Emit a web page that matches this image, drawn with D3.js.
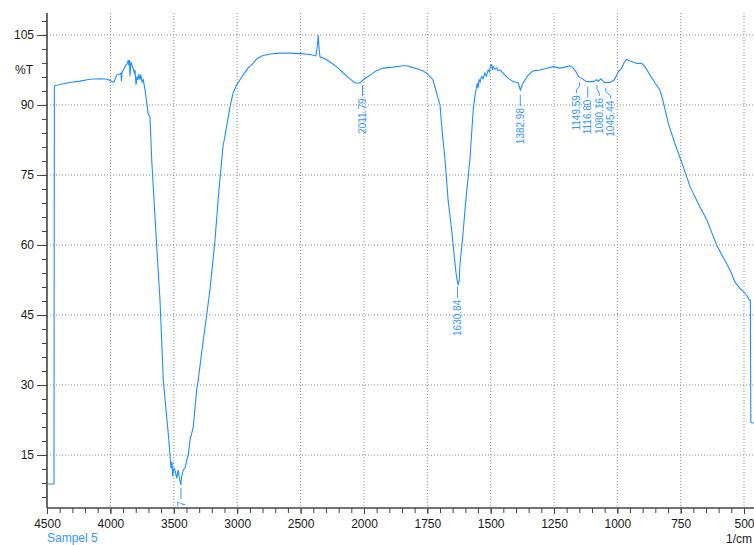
<!DOCTYPE html>
<html>
<head>
<meta charset="utf-8">
<script src="https://cdn.jsdelivr.net/npm/d3@7"></script>
<style>
  html, body { margin: 0; padding: 0; background: #fff; }
  svg { display: block; font-family: "Liberation Sans", Arial, sans-serif; }
</style>
</head>
<body>
<svg id="chart" width="754" height="545"></svg>
<script>
// ---- data ----
const wavenumber = [4500,4445,4442,4382,4319,4240,4161,4082,4019,3995,3972,3950,3932,3916,3913,3909,3885,3869,3859,3853,3849,3846,3838,3830,3812,3806,3798,3790,3782,3775,3767,3759,3751,3741,3727,3711,3701,3688,3674,3656,3633,3609,3583,3564,3544,3530,3522,3514,3509,3499,3491,3477,3465,3459,3445,3438,3425,3412,3398,3386,3372,3346,3320,3307,3278,3246,3215,3175,3144,3112,3083,3057,3033,3004,2978,2954,2915,2876,2844,2807,2741,2663,2584,2505,2426,2379,2367,2361,2355,2347,2308,2268,2213,2166,2111,2071,2032,2006,1976,1953,1925,1886,1846,1830,1807,1787,1767,1753,1740,1728,1720,1713,1708,1700,1692,1680,1668,1654,1641,1634,1628,1624,1621,1614,1608,1598,1582,1569,1564,1558,1553,1550,1546,1542,1536,1530,1523,1517,1510,1505,1501,1496,1493,1490,1483,1476,1471,1463,1450,1440,1431,1411,1391,1383,1372,1352,1332,1305,1282,1253,1226,1207,1187,1174,1163,1154,1141,1121,1095,1081,1075,1065,1051,1029,1012,996,983,974,963,954,943,924,904,891,871,851,832,819,799,773,740,713,681,647,621,608,588,569,549,536,516,496,486,479,475,473,469,437];
const transmittance = [8.8,8.8,94.1,94.5,94.8,95.1,95.5,95.6,95.5,95.1,94.9,96.4,96.6,96.8,95.1,96.9,98.2,98.8,99.6,98.4,99.6,96.1,99.2,98.6,96.9,97.5,94.3,96.1,95.4,96.6,95.4,96.5,94.9,95.4,93.2,90.0,87.9,87.5,78.2,69.6,58.9,48.2,31.1,25.4,19.7,15.0,12.2,13.5,10.4,12.2,11.8,10.0,11.8,10.5,8.6,10.4,11.8,12.2,13.9,15.0,18.2,21.1,28.9,31.1,37.5,43.9,50.4,61.1,71.8,81.1,85.4,89.6,92.5,94.3,95.4,96.4,97.9,98.9,99.9,100.5,100.9,101.1,101.1,101.0,100.8,100.5,102.9,105.0,102.2,100.3,99.9,99.2,98.1,96.9,95.6,94.7,94.7,95.4,96.4,97.3,97.9,98.1,98.4,98.4,98.0,97.7,97.3,96.8,96.1,95.4,93.9,92.5,91.5,90.0,84.6,78.2,69.6,63.2,56.1,52.9,51.4,52.5,56.1,59.6,63.2,69.6,78.2,88.9,91.1,93.2,94.7,93.6,95.4,94.9,96.1,95.6,96.8,96.2,97.5,97.1,98.4,98.6,97.5,98.2,97.7,97.9,97.3,97.5,96.8,96.2,95.7,95.0,94.7,93.2,94.7,96.4,97.3,97.5,97.8,98.2,97.9,98.1,98.4,97.9,97.1,96.1,95.7,95.0,95.0,95.4,95.1,95.6,94.8,94.8,95.4,97.1,97.9,99.0,99.8,99.5,99.3,98.9,98.9,98.2,96.4,94.7,93.2,90.7,86.1,81.8,76.8,72.5,68.9,65.4,61.8,60.0,57.9,56.1,53.9,52.1,50.7,49.7,48.9,48.2,48.2,22.1,21.9,21.8];

const peakWavenumbers = [3443.47, 2011.79, 1630.84, 1382.98, 1149.59, 1116.80, 1080.16, 1045.44];
const peakLabels = ["3443.47", "2011.79", "1630.84", "1382.98", "1149.59", "1116.80", "1080.16", "1045.44"];

const xMajorTicks = [4500, 4000, 3500, 3000, 2500, 2000, 1750, 1500, 1250, 1000, 750, 500];
const yMajorTicks = [15, 30, 45, 60, 75, 90, 105];
const xBreaks = [4500, 2000, 500];
const yDomain = [3.65, 109.7];
const yLabel = "%T";
const xLabel = "1/cm";
const sampleName = "Sampel 5";

// ---- layout ----
const M = { left: 47, top: 13, bottom: 508, right: 754 };
const lineColor = "#1e8fff";
const labelColor = "#3797ff";

const svg = d3.select("#chart");

const x = d3.scaleLinear().domain(xBreaks).range([47, 364, 744]);
const y = d3.scaleLinear().domain(yDomain).range([M.bottom, M.top]);

svg.append("defs").append("clipPath").attr("id", "plotclip")
  .append("rect").attr("x", M.left).attr("y", M.top).attr("width", M.right - M.left).attr("height", M.bottom - M.top);

// minor ticks
const xMinor = [];
for (let v = 4500; v >= 2000; v -= 100) xMinor.push(v);
for (let v = 1950; v >= 500; v -= 50) xMinor.push(v);
const yMinor = [];
for (let v = 6; v <= 108; v += 3) yMinor.push(v);

// grid
const grid = svg.append("g");
grid.selectAll("line.vg").data(xMajorTicks.filter(d => d !== 4500)).enter().append("line")
  .attr("x1", d => x(d)).attr("x2", d => x(d)).attr("y1", M.top).attr("y2", M.bottom)
  .attr("stroke", "#8c8c8c").attr("stroke-width", 1).attr("stroke-dasharray", "1,2");
grid.selectAll("line.hg").data(yMajorTicks).enter().append("line")
  .attr("x1", M.left).attr("x2", M.right).attr("y1", d => y(d)).attr("y2", d => y(d))
  .attr("stroke", "#8c8c8c").attr("stroke-width", 1).attr("stroke-dasharray", "1,2");

// axes
const xAxisMinor = d3.axisBottom(x).tickValues(xMinor).tickSize(5).tickFormat("");
const xAxis = d3.axisBottom(x).tickValues(xMajorTicks).tickSize(6).tickPadding(5).tickFormat(d3.format("d"));
const yAxisMinor = d3.axisLeft(y).tickValues(yMinor).tickSize(5).tickFormat("");
const yAxis = d3.axisLeft(y).tickValues(yMajorTicks).tickSize(10).tickPadding(3).tickFormat(d3.format("d"));

function styleAxis(g) {
  g.selectAll("path.domain").remove();
  g.selectAll("line").attr("stroke", "#444").attr("stroke-width", 1);
  g.selectAll("text").attr("fill", "#1a1a1a").style("font-size", "12px")
    .style("font-family", "'Liberation Sans', Arial, sans-serif");
}
svg.append("g").attr("transform", `translate(0,${M.bottom})`).call(xAxisMinor).call(styleAxis);
svg.append("g").attr("transform", `translate(0,${M.bottom})`).call(xAxis).call(styleAxis);
svg.append("g").attr("transform", `translate(${M.left},0)`).call(yAxisMinor).call(styleAxis);
svg.append("g").attr("transform", `translate(${M.left},0)`).call(yAxis).call(styleAxis);

// axis lines
svg.append("line").attr("x1", M.left).attr("x2", M.left).attr("y1", M.top).attr("y2", M.bottom)
  .attr("stroke", "#444").attr("stroke-width", 1.6);
svg.append("line").attr("x1", M.left).attr("x2", M.right).attr("y1", M.bottom).attr("y2", M.bottom)
  .attr("stroke", "#444").attr("stroke-width", 1.6);

// axis titles
svg.append("text").attr("x", 33).attr("y", y(97.5)).attr("dy", "0.35em").attr("text-anchor", "end")
  .attr("fill", "#1a1a1a").style("font-size", "12px").text(yLabel);
svg.append("text").attr("x", 752).attr("y", 543).attr("text-anchor", "end")
  .attr("fill", "#1a1a1a").style("font-size", "12px").text(xLabel);
svg.append("text").attr("x", 47).attr("y", 542).attr("fill", labelColor).style("font-size", "12px").text(sampleName);

// spectrum
const pts = wavenumber.map((w, i) => [w, transmittance[i]]);
const plot = svg.append("g").attr("clip-path", "url(#plotclip)");
plot.append("path").datum(pts)
  .attr("fill", "none").attr("stroke", lineColor).attr("stroke-width", 1.1)
  .attr("d", d3.line().x(d => x(d[0])).y(d => y(d[1])));

// peak annotations
function interpT(w) {
  for (let i = 0; i < wavenumber.length - 1; i++) {
    const a = wavenumber[i], b = wavenumber[i + 1];
    if (w <= a && w >= b) {
      const t = (a - w) / (a - b);
      return transmittance[i] + t * (transmittance[i + 1] - transmittance[i]);
    }
  }
  return transmittance[transmittance.length - 1];
}
const peaks = peakWavenumbers.map((w, i) => ({ w, label: peakLabels[i], px: x(w), py: y(interpT(w)) }));
const gap = 11.4;
const sorted = peaks.slice().sort((a, b) => a.px - b.px);
const groups = [];
sorted.forEach(p => {
  const g = groups[groups.length - 1];
  if (g && p.px - g[g.length - 1].px < gap) g.push(p); else groups.push([p]);
});
groups.forEach(g => {
  const m = d3.mean(g, d => d.px);
  g.forEach((p, i) => { p.lx = g.length > 1 ? m + (i - (g.length - 1) / 2) * gap + 1 : p.px; });
});

const ann = svg.append("g").attr("clip-path", "url(#plotclip)");
peaks.forEach(p => {
  const s = p.py + 5;
  const e = s + 11;
  const ptsL = p.lx === p.px
    ? [[p.px, s], [p.px, e]]
    : [[p.px, s], [p.px, s + 4], [p.lx, s + 8], [p.lx, e]];
  ann.append("path").attr("d", d3.line()(ptsL))
    .attr("fill", "none").attr("stroke", labelColor).attr("stroke-width", 1);
  ann.append("text")
    .attr("transform", `translate(${p.lx + 3.6},${e + 2}) rotate(-90)`)
    .attr("text-anchor", "end").attr("fill", labelColor)
    .style("font-size", "10px").text(p.label);
});
</script>
</body>
</html>
